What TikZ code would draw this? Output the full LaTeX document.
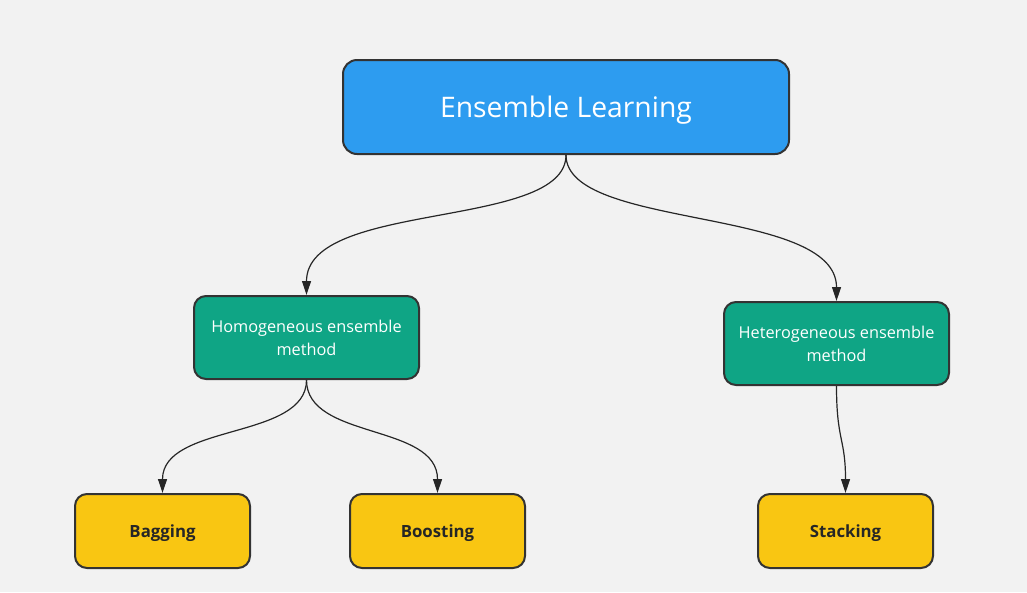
\documentclass[tikz,border=0pt]{standalone}
\usepackage{fontspec}
\setmainfont{Open Sans}
\usetikzlibrary{arrows.meta}
\definecolor{bg}{HTML}{F2F2F2}
\definecolor{blueF}{HTML}{2D9CF0}
\definecolor{tealF}{HTML}{0FA585}
\definecolor{yellowF}{HTML}{F9C612}
\definecolor{edge}{HTML}{333333}
\tikzset{
  box/.style={draw=edge, line width=2pt, rounded corners=14pt, align=center, inner sep=0pt},
  rootbox/.style={box, fill=blueF, minimum width=446pt, minimum height=94pt, text=white, font=\fontsize{28.3}{32}\selectfont, text height=20pt, text depth=0pt},
  midbox/.style={box, fill=tealF, minimum width=225pt, minimum height=83pt, text=white, font=\fontsize{16.3}{23}\selectfont, rounded corners=12pt},
  leafbox/.style={box, fill=yellowF, minimum width=175pt, minimum height=74pt, text=black!85, font=\fontsize{16.8}{20}\selectfont\bfseries, rounded corners=12pt, text height=12pt, text depth=0pt},
  link/.style={draw=black!85, line width=1.2pt, -{Triangle[length=14pt,width=9pt]}}
}
\begin{document}
\begin{tikzpicture}[x=1pt,y=-1pt]
\fill[bg] (0,0) rectangle (1027,592);
\useasboundingbox (0,0) rectangle (1027,592);
\node[rootbox] (root) at (566,107) {Ensemble Learning};
\node[midbox] (homo) at (306.5,337.5) {Homogeneous ensemble\\method};
\node[midbox] (hetero) at (836.5,343.5) {Heterogeneous ensemble\\method};
\node[leafbox] (bag) at (162.5,531) {Bagging};
\node[leafbox] (boost) at (437.5,531) {Boosting};
\node[leafbox] (stack) at (845.5,531) {Stacking};
\draw[link] (root.south) .. controls ++(0,75) and ++(0,-95) .. (homo.north);
\draw[link] (root.south) .. controls ++(0,75) and ++(0,-95) .. (hetero.north);
\draw[link] (homo.south) .. controls ++(0,60) and ++(0,-70) .. (bag.north);
\draw[link] (homo.south) .. controls ++(0,60) and ++(0,-70) .. (boost.north);
\draw[link] (hetero.south) .. controls ++(0,55) and ++(0,-55) .. (stack.north);
\end{tikzpicture}
\end{document}
